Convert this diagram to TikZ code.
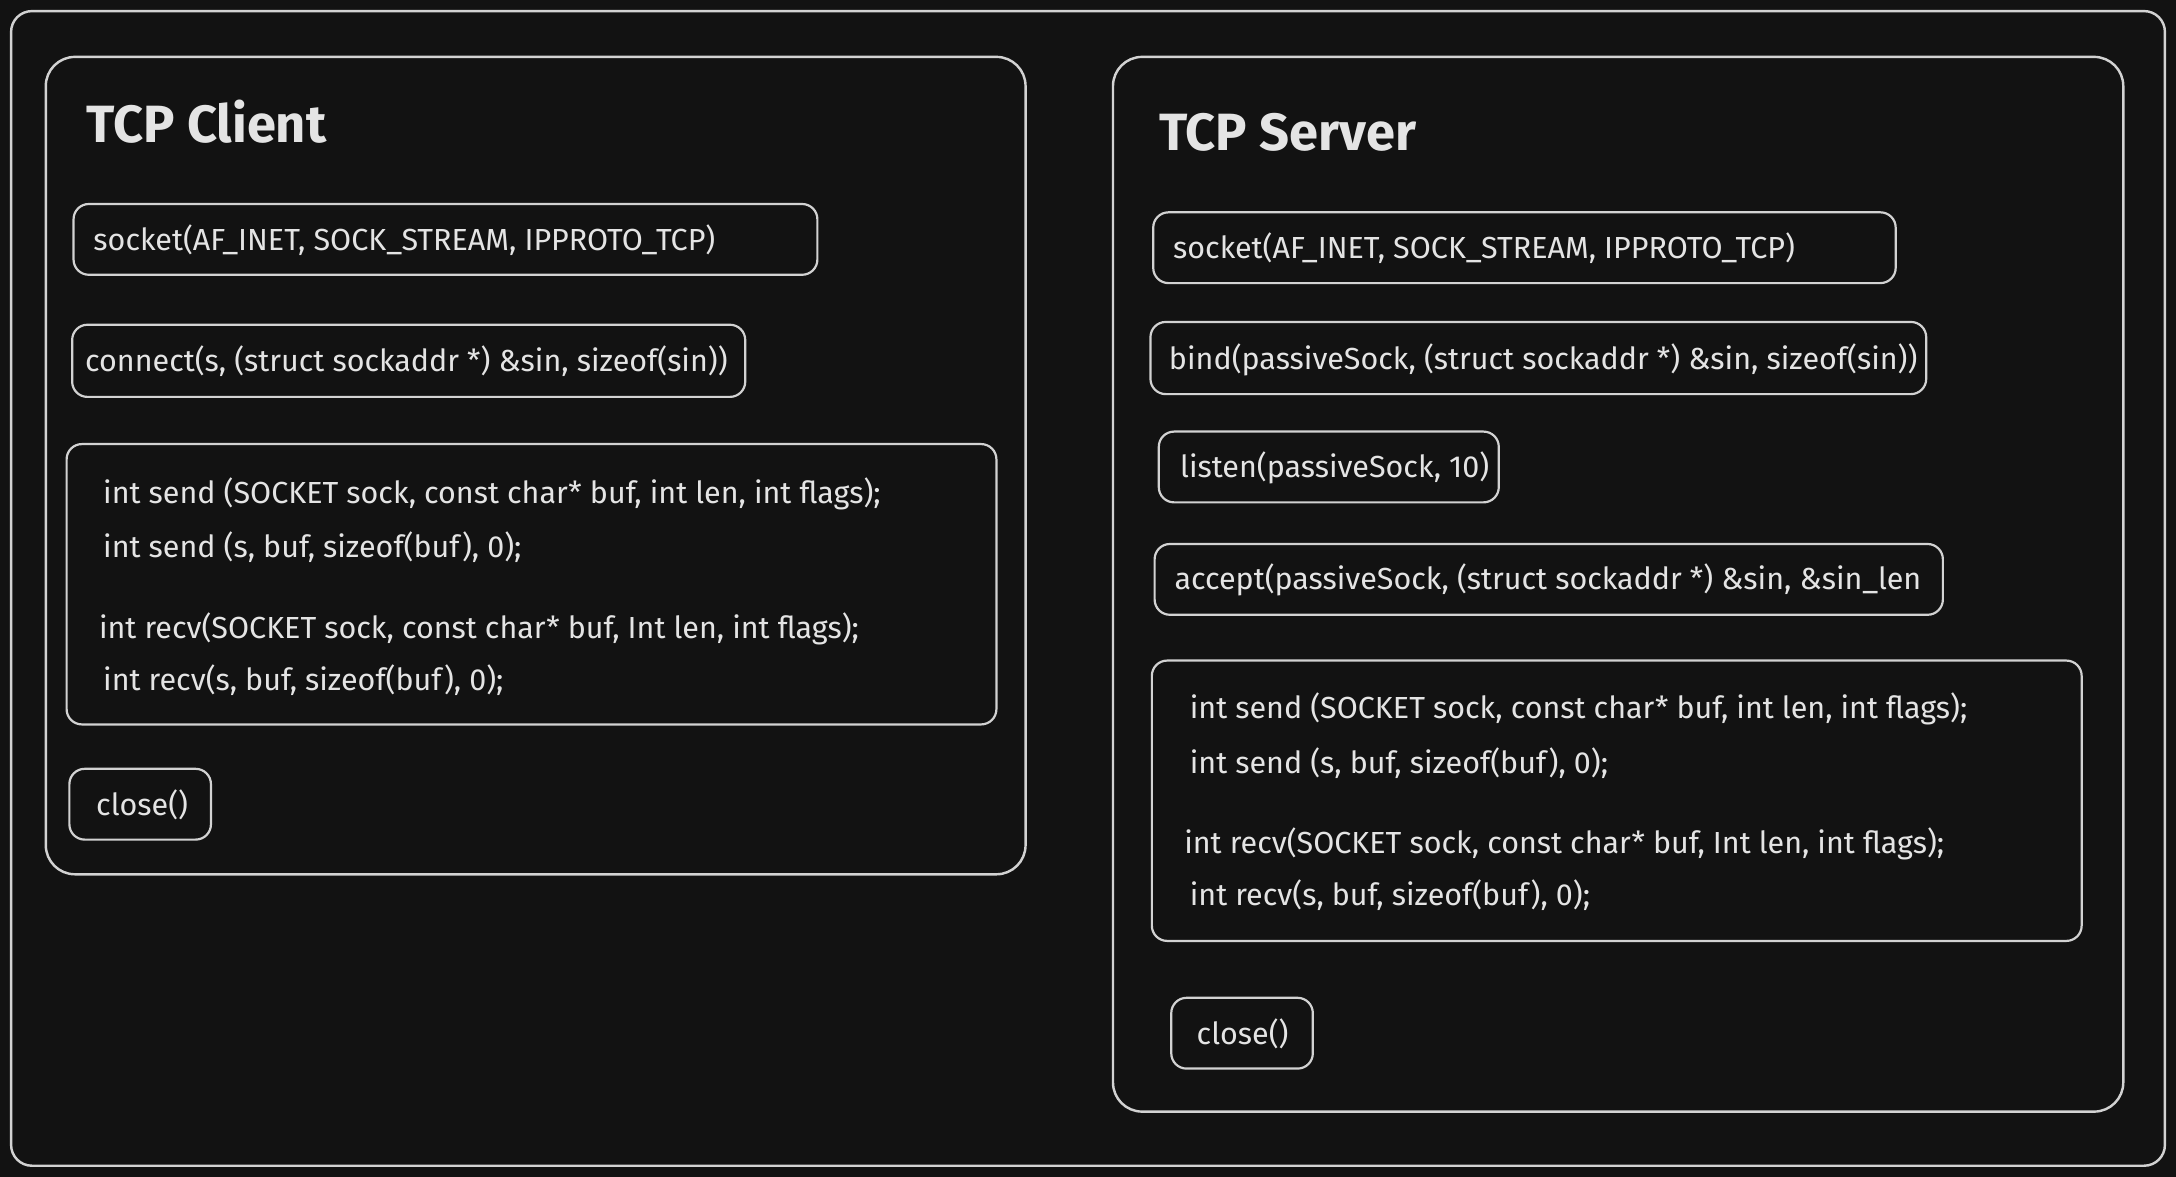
\documentclass[tikz,border=0pt]{standalone}
\usepackage{fontspec}
\setmainfont{Fira Sans}
\usetikzlibrary{fit}
\definecolor{canvasbg}{HTML}{121212}
\definecolor{sketchline}{HTML}{D2D2D2}
\definecolor{sketchink}{HTML}{E4E4E4}

\begin{document}
\begin{tikzpicture}[
  x=0.02cm,
  y=-0.02cm,
  every node/.style={sketchink},
  frame/.style={draw=sketchline, line width=1pt, rounded corners=0.3cm, inner sep=0pt},
  panel/.style={draw=sketchline, line width=1pt, rounded corners=0.42cm, inner sep=0pt},
  callbox/.style={draw=sketchline, line width=0.9pt, rounded corners=0.22cm, inner sep=0pt},
  calltext/.style={anchor=west, inner sep=0pt, font=\fontsize{12.5}{15}\selectfont},
  paneltitle/.style={anchor=west, inner sep=0pt, font=\fontsize{21.5}{25}\selectfont\bfseries}
]
  % ---- canvas ----
  \fill[canvasbg] (0,0) rectangle (1568,848);
  \useasboundingbox (0,0) rectangle (1568,848);
  \node[frame, fit={(8,8) (1560,840)}] (outer) {};

  % ---- client side ----
  \node[panel, fit={(33,41) (739,630)}] (client) {};
  \node[paneltitle] (clienttitle) at (62,88) {TCP Client};

  \node[callbox, fit={(53,147) (589,198)}] (csocket) {};
  \node[calltext] (csockettxt) at (67,173) {socket(AF\_INET, SOCK\_STREAM, IPPROTO\_TCP)};

  \node[callbox, fit={(52,234) (537,286)}] (cconnect) {};
  \node[calltext] (cconnecttxt) at (61,260) {connect(s, (struct sockaddr *) \&sin, sizeof(sin))};

  \node[callbox, fit={(48,320) (718,522)}] (cio) {};
  \node[calltext] (cio1) at (74,356) {int send (SOCKET sock, const char* buf, int len, int flags);};
  \node[calltext] (cio2) at (74,394) {int send (s, buf, sizeof(buf), 0);};
  \node[calltext] (cio3) at (71,453) {int recv(SOCKET sock, const char* buf, Int len, int flags);};
  \node[calltext] (cio4) at (74,490) {int recv(s, buf, sizeof(buf), 0);};

  \node[callbox, fit={(50,554) (152,605)}] (cclose) {};
  \node[calltext] (cclosetxt) at (69,580) {close()};

  % ---- server side ----
  \node[panel, fit={(802,41) (1530,801)}] (server) {};
  \node[paneltitle] (servertitle) at (835,95) {TCP Server};

  \node[callbox, fit={(831,153) (1366,204)}] (ssocket) {};
  \node[calltext] (ssockettxt) at (845,179) {socket(AF\_INET, SOCK\_STREAM, IPPROTO\_TCP)};

  \node[callbox, fit={(829,232) (1388,284)}] (sbind) {};
  \node[calltext] (sbindtxt) at (842,259) {bind(passiveSock, (struct sockaddr *) \&sin, sizeof(sin))};

  \node[callbox, fit={(835,311) (1080,362)}] (slisten) {};
  \node[calltext] (slistentxt) at (850,337) {listen(passiveSock, 10)};

  \node[callbox, fit={(832,392) (1400,443)}] (saccept) {};
  \node[calltext] (saccepttxt) at (846,418) {accept(passiveSock, (struct sockaddr *) \&sin, \&sin\_len};

  \node[callbox, fit={(830,476) (1500,678)}] (sio) {};
  \node[calltext] (sio1) at (857,511) {int send (SOCKET sock, const char* buf, int len, int flags);};
  \node[calltext] (sio2) at (857,550) {int send (s, buf, sizeof(buf), 0);};
  \node[calltext] (sio3) at (853,608) {int recv(SOCKET sock, const char* buf, Int len, int flags);};
  \node[calltext] (sio4) at (857,645) {int recv(s, buf, sizeof(buf), 0);};

  \node[callbox, fit={(844,719) (946,770)}] (sclose) {};
  \node[calltext] (sclosetxt) at (862,745) {close()};
\end{tikzpicture}
\end{document}
